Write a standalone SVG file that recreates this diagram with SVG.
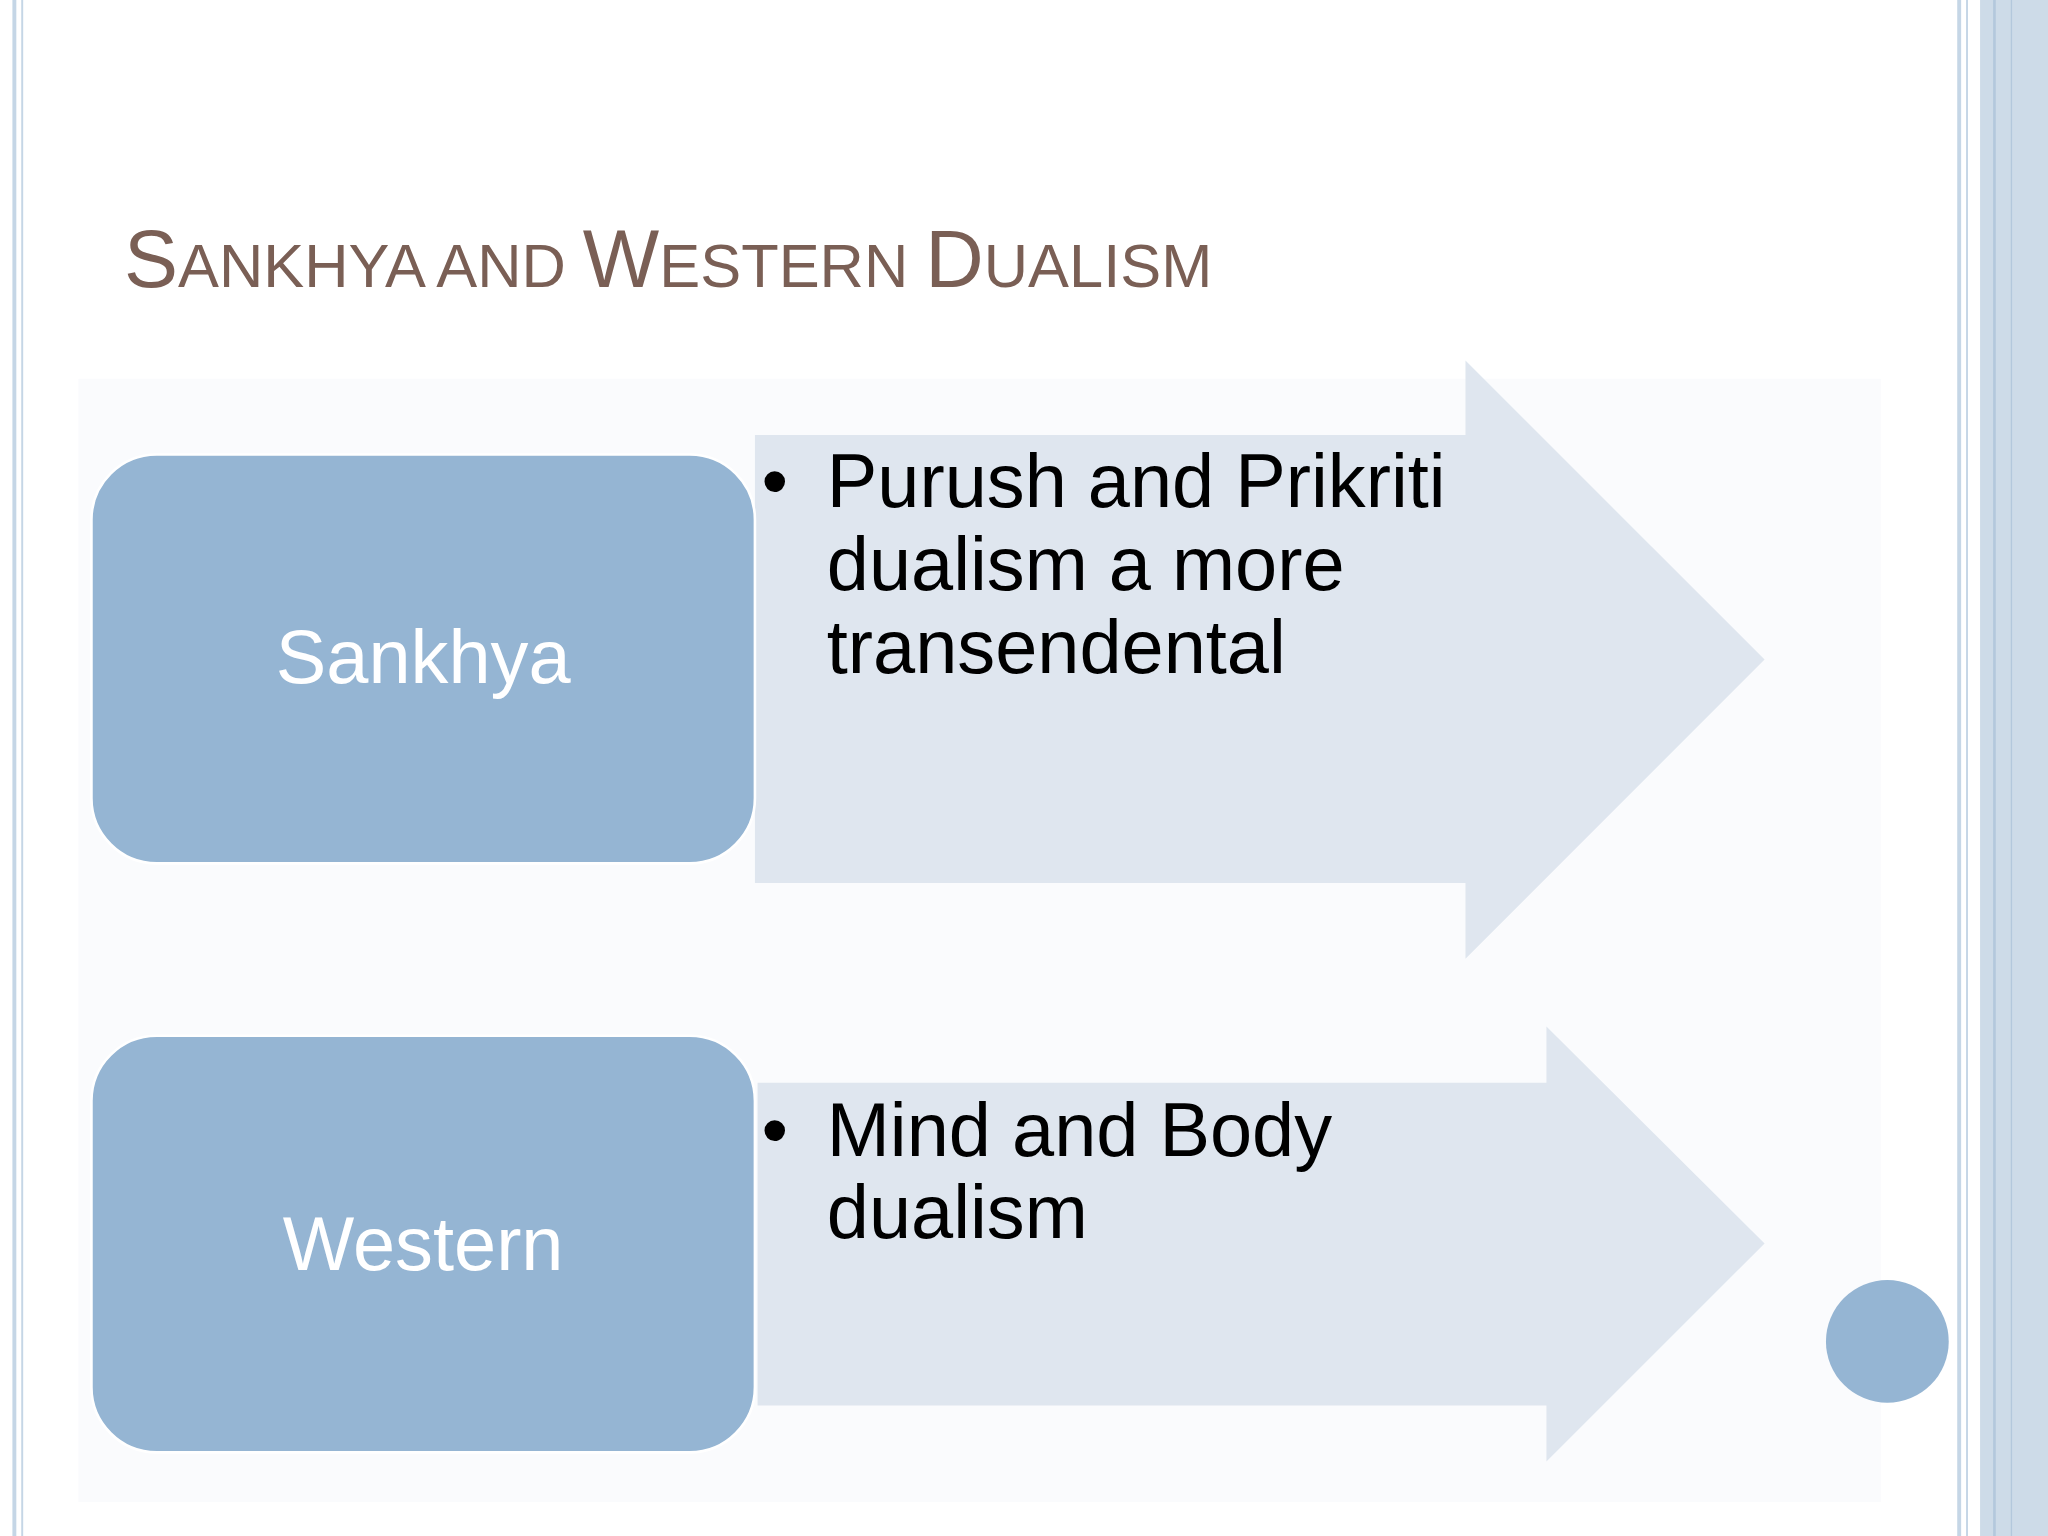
<svg xmlns="http://www.w3.org/2000/svg" width="2048" height="1536" viewBox="0 0 2048 1536">
<style>
.box{fill:#95b5d3;stroke:#ffffff;stroke-width:2}
.arrow{fill:#dfe6ef}
.lbl{font-family:"Liberation Sans",Arial,sans-serif;font-size:58px;fill:#ffffff;text-anchor:middle}
.body{font-family:"Liberation Sans",Arial,sans-serif;font-size:58px;fill:#000000}
.title{font-family:"Liberation Sans",Arial,sans-serif;fill:#7a5f55}
.bl{stroke:#c5d6e6;fill:none}
</style>
<rect width="2048" height="1536" fill="#ffffff"/>
<g transform="scale(1.306122)">
<g id="borders">
<line class="bl" x1="11" y1="0" x2="11" y2="1176" stroke-width="3"/>
<line class="bl" x1="17" y1="0" x2="17" y2="1176" stroke-width="1.5"/>
<line class="bl" x1="1500" y1="0" x2="1500" y2="1176" stroke-width="3"/>
<line class="bl" x1="1506" y1="0" x2="1506" y2="1176" stroke-width="1.5"/>
<rect x="1516" y="0" width="52" height="1176" fill="#cddbe8"/>
<line x1="1527" y1="0" x2="1527" y2="1176" stroke="#b3c8dc" stroke-width="2"/>
<line x1="1540" y1="0" x2="1540" y2="1176" stroke="#b3c8dc" stroke-width="1"/>
</g>
<rect x="60" y="290" width="1380" height="860" fill="#fafbfd"/>
<text class="title" x="95" y="220"><tspan font-size="62">S</tspan><tspan font-size="47">ANKHYA AND </tspan><tspan font-size="62">W</tspan><tspan font-size="47">ESTERN </tspan><tspan font-size="62">D</tspan><tspan font-size="47">UALISM</tspan></text>
<g id="connectors">
<polygon class="arrow" points="578,333 1122,333 1122,276 1351,505 1122,734 1122,676 578,676"/>
<polygon class="arrow" points="580,829 1184,829 1184,786 1351,952 1184,1119 1184,1076 580,1076"/>
</g>
<g id="sankhya">
<rect class="box" x="70" y="348" width="508" height="313" rx="50"/>
<text class="lbl" x="324" y="523">Sankhya</text>
</g>
<g id="sankhya-text">
<text class="body" x="583" y="388">•</text>
<text class="body" x="633" y="388">Purush and Prikriti</text>
<text class="body" x="633" y="452">dualism a more</text>
<text class="body" x="633" y="515">transendental</text>
</g>
<g id="western">
<rect class="box" x="70" y="793" width="508" height="319" rx="50"/>
<text class="lbl" x="324" y="972">Western</text>
</g>
<g id="western-text">
<text class="body" x="583" y="885">•</text>
<text class="body" x="633" y="885">Mind and Body</text>
<text class="body" x="633" y="948">dualism</text>
</g>
<circle cx="1445" cy="1027" r="47" fill="#95b5d3"/>
</g>
</svg>
